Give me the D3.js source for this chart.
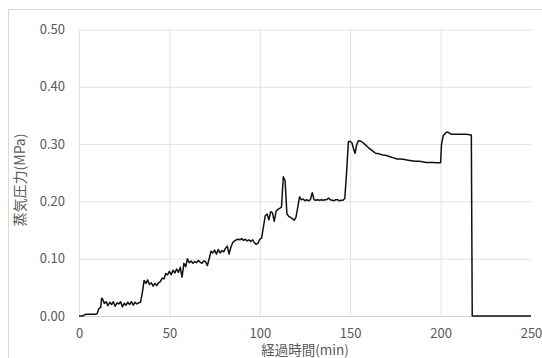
<!DOCTYPE html>
<html>
<head>
<meta charset="utf-8">
<script src="https://cdn.jsdelivr.net/npm/d3@7"></script>
<style>
  body { margin: 0; background: #fff; }
  text { font-family: "Noto Sans CJK JP", "Noto Sans", sans-serif; }
</style>
</head>
<body>
<div id="chart"></div>
<script>
// elapsed time (min) and steam pressure (MPa)
var times = [0, 1, 2, 3, 4, 5, 6, 7, 8, 9, 10, 11, 12, 12.5, 13, 14, 15, 16, 17, 18, 19,
  20, 21, 22, 23, 24, 25, 26, 27, 28, 29, 30, 31, 32, 33, 34, 35, 36, 37, 38, 39,
  40, 41, 42, 43, 44, 45, 46, 47, 48, 49, 50, 51, 52, 53, 54, 55, 56, 57, 58, 59,
  60, 61, 62, 63, 64, 65, 66, 67, 68, 69, 70, 71, 72, 73, 74, 75, 76, 77, 78, 79,
  80, 81, 82, 83, 84, 85, 86, 87, 88, 89, 90, 91, 92, 93, 94, 95, 96, 97, 98, 99,
  100, 101, 102, 103, 104, 105, 106, 107, 108, 109, 110, 111, 112, 113, 114, 115, 116, 117, 118, 119,
  120, 121, 122, 123, 124, 125, 126, 127, 128, 129, 130, 131, 132, 133, 134, 135, 136, 137, 138, 139,
  140, 141, 142, 143, 144, 145, 146, 147, 148, 149, 150, 151, 152, 152.7, 153.5, 154.5, 156, 158,
  160, 162, 164, 166, 168, 170, 172, 174, 176, 178, 180, 182, 184, 186, 188, 190, 192, 194, 196, 198,
  200, 200.5, 201.5, 203, 204, 206, 210, 214, 217, 217.5, 250];

var pressure = [0, 0, 0, 0.002, 0.003, 0.003, 0.003, 0.003, 0.003, 0.003, 0.004, 0.013, 0.015, 0.031, 0.03, 0.022, 0.025, 0.018, 0.024, 0.02, 0.025,
  0.017, 0.023, 0.021, 0.025, 0.016, 0.022, 0.019, 0.024, 0.02, 0.025, 0.019, 0.024, 0.021, 0.023, 0.024, 0.04, 0.062, 0.057, 0.063, 0.055,
  0.058, 0.052, 0.057, 0.053, 0.058, 0.06, 0.066, 0.065, 0.074, 0.072, 0.078, 0.072, 0.08, 0.075, 0.082, 0.076, 0.085, 0.068, 0.092, 0.086,
  0.1, 0.093, 0.096, 0.092, 0.095, 0.093, 0.097, 0.094, 0.092, 0.096, 0.095, 0.088, 0.1, 0.113, 0.11, 0.115, 0.108, 0.116, 0.11, 0.114,
  0.112, 0.118, 0.122, 0.108, 0.12, 0.128, 0.131, 0.133, 0.134, 0.133, 0.135, 0.132, 0.134, 0.131, 0.133, 0.13, 0.133, 0.128, 0.125, 0.127,
  0.134, 0.136, 0.155, 0.175, 0.178, 0.168, 0.182, 0.18, 0.165, 0.183, 0.186, 0.188, 0.19, 0.243, 0.236, 0.178, 0.174, 0.172, 0.17, 0.167,
  0.172, 0.19, 0.208, 0.203, 0.204, 0.201, 0.203, 0.201, 0.203, 0.215, 0.203, 0.202, 0.203, 0.202, 0.203, 0.202, 0.203, 0.203, 0.206, 0.203,
  0.202, 0.201, 0.203, 0.203, 0.201, 0.202, 0.202, 0.205, 0.25, 0.304, 0.305, 0.302, 0.29, 0.284, 0.298, 0.306, 0.305, 0.3,
  0.294, 0.289, 0.284, 0.283, 0.281, 0.28, 0.278, 0.276, 0.274, 0.274, 0.273, 0.272, 0.271, 0.27, 0.27, 0.269, 0.268, 0.268, 0.268, 0.2675,
  0.2675, 0.3, 0.315, 0.32, 0.321, 0.317, 0.317, 0.317, 0.316, 0, 0];

var xTicks = [0, 50, 100, 150, 200, 250];
var yTicks = [0, 0.1, 0.2, 0.3, 0.4, 0.5];
var xTitle = "経過時間(min)";
var yTitle = "蒸気圧力(MPa)";

var svgWidth = 542;
var svgHeight = 358;

var margin = { top: 29.5, right: 11, bottom: 42, left: 79 };
var width = svgWidth - margin.left - margin.right;
var height = svgHeight - margin.top - margin.bottom;

var svg = d3.select("#chart")
  .append("svg")
  .attr("width", svgWidth)
  .attr("height", svgHeight);

// chart area border
svg.append("rect")
  .attr("x", 8.5)
  .attr("y", 9.5)
  .attr("width", 700)
  .attr("height", 500)
  .attr("fill", "none")
  .attr("stroke", "#d9d9d9");

var g = svg.append("g")
  .attr("transform", `translate(${margin.left}, ${margin.top})`);

var x = d3.scaleLinear().domain([0, 250]).range([0, width]);
var y = d3.scaleLinear().domain([0, 0.5]).range([height, 0]);

// vertical gridlines + x labels
var xAxis = g.append("g")
  .attr("transform", `translate(0, ${height})`)
  .call(d3.axisBottom(x).tickValues(xTicks).tickSize(-height).tickPadding(13).tickFormat(d3.format("d")));
xAxis.select(".domain").remove();
xAxis.selectAll(".tick line")
  .attr("stroke", d => d === 250 ? "none" : "#e2e2e2");
xAxis.selectAll(".tick text")
  .attr("fill", "#595959")
  .attr("font-size", 13);

// horizontal gridlines + y labels
var yAxis = g.append("g")
  .call(d3.axisLeft(y).tickValues(yTicks).tickSize(-width).tickPadding(14).tickFormat(d3.format(".2f")));
yAxis.select(".domain").remove();
yAxis.selectAll(".tick line")
  .attr("stroke", d => d === 0 ? "#d0d0d0" : "#e2e2e2");
yAxis.selectAll(".tick text")
  .attr("fill", "#595959")
  .attr("font-size", 13);

var data = times.map((t, i) => ({ t: t, v: pressure[i] }));

var line = d3.line()
  .x(d => x(d.t))
  .y(d => y(d.v));

g.append("path")
  .datum(data)
  .attr("d", line)
  .attr("fill", "none")
  .attr("stroke", "#111")
  .attr("stroke-width", 1.5)
  .attr("stroke-linejoin", "round");

// axis titles
svg.append("text")
  .attr("x", margin.left + width / 2)
  .attr("y", 355)
  .attr("text-anchor", "middle")
  .attr("fill", "#595959")
  .attr("font-size", 13.5)
  .text(xTitle);

svg.append("text")
  .attr("transform", "translate(25, 180) rotate(-90)")
  .attr("text-anchor", "middle")
  .attr("fill", "#595959")
  .attr("font-size", 14)
  .text(yTitle);
</script>
</body>
</html>
